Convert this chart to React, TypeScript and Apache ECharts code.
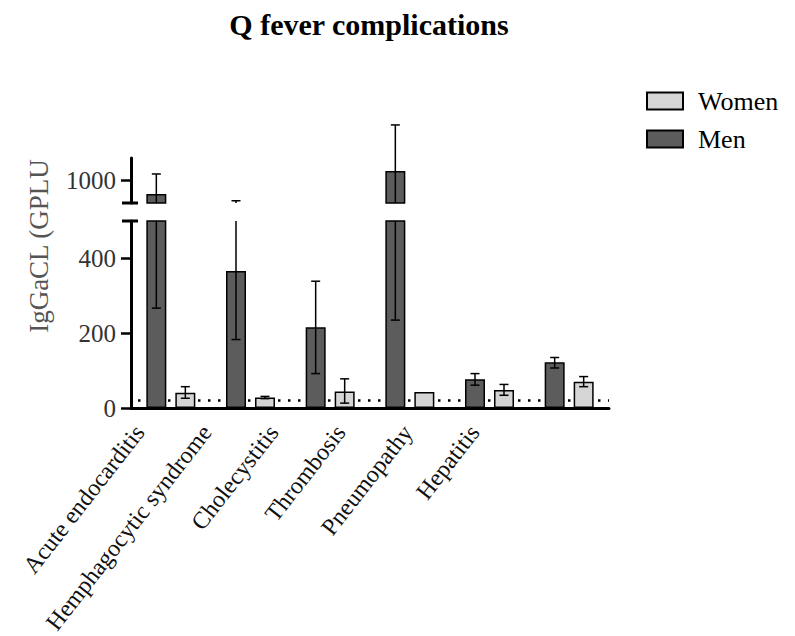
import React, { useEffect, useRef } from "react";
import * as echarts from "echarts";

const categories = [
  "Acute endocarditis",
  "Hemphagocytic syndrome",
  "Cholecystitis",
  "Thrombosis",
  "Pneumopathy",
  "Hepatitis",
];
const menValues = [940, 366, 216, 1042, 77, 122];
const womenValues = [41, 28, 44, 43, 48, 70];
const menErrLow = [267, 183, 92, 235, 61, 107];
const menErrHigh = [1029, 910, 339, 1247, 92, 135];
const womenErrLow: (number | null)[] = [26, 25, 13, null, 34, 57];
const womenErrHigh: (number | null)[] = [57, 31, 78, null, 63, 84];
const lowerTicks = [0, 200, 400];
const upperTicks = [1000];
const lowerRange = [0, 500];
const upperRange = [900, 1100];
const threshold = 20;

const SERIF = "'Liberation Serif', 'DejaVu Serif', serif";
const MEN_COLOR = "#5c5c5c";
const WOMEN_COLOR = "#d5d5d5";
const BAR_W = 20;
const GAP_PX = 9;

function errData(lo: (number | null)[], hi: (number | null)[]) {
  const out: number[][] = [];
  categories.forEach((_, i) => {
    if (lo[i] != null && hi[i] != null) out.push([i, lo[i] as number, hi[i] as number]);
  });
  return out;
}

function makeErrRender(offset: number, clipTop: boolean) {
  return (params: any, api: any) => {
    const idx = api.value(0);
    const lo = api.value(1);
    const hi = api.value(2);
    const cs = params.coordSys;
    const top = cs.y;
    const bottom = cs.y + cs.height;
    const x = api.coord([idx, lo])[0] + offset;
    let yLo = api.coord([idx, lo])[1];
    let yHi = api.coord([idx, hi])[1];
    const cap = 4.5;
    const children: any[] = [];
    const style = { stroke: "#000", lineWidth: 1.5 };
    let drawLoCap = true;
    let drawHiCap = true;
    if (clipTop) {
      if (yHi < top) {
        yHi = top;
        drawHiCap = false;
      }
    } else {
      if (yHi > bottom) return null;
      if (yLo > bottom) {
        yLo = bottom;
        drawLoCap = false;
      }
    }
    children.push({ type: "line", shape: { x1: x, y1: yLo, x2: x, y2: yHi }, style });
    if (drawHiCap)
      children.push({ type: "line", shape: { x1: x - cap, y1: yHi, x2: x + cap, y2: yHi }, style });
    if (drawLoCap)
      children.push({ type: "line", shape: { x1: x - cap, y1: yLo, x2: x + cap, y2: yLo }, style });
    return { type: "group", children };
  };
}

export default function App() {
  const ref = useRef<HTMLDivElement>(null);
  useEffect(() => {
    if (!ref.current) return;
    const chart = echarts.init(ref.current, undefined, { renderer: "svg" });
    const off = (BAR_W + GAP_PX) / 2;
    const axisLineStyle = { color: "#000", width: 3 };
    const yLabel = {
      fontSize: 25,
      fontFamily: SERIF,
      color: "#333",
      margin: 15,
      formatter: (v: number) => String(v),
    };
    const barStyle = (c: string) => ({ color: c, borderColor: "#000", borderWidth: 1.5 });
    const breakRender = (params: any, api: any) => {
      const cs = params.coordSys;
      const y = api.coord([0, api.value(1)])[1];
      return {
        type: "line",
        shape: { x1: cs.x - 9, y1: y, x2: cs.x + 7, y2: y },
        style: { stroke: "#000", lineWidth: 3 },
      };
    };

    const option: any = {
      animation: false,
      backgroundColor: "#fff",
      graphic: [
        {
          type: "text",
          x: 369,
          y: 9,
          style: {
            text: "Q fever complications",
            font: `bold 30px ${SERIF}`,
            fill: "#000",
            textAlign: "center",
            textVerticalAlign: "top",
          },
        },
        {
          type: "text",
          x: 39,
          y: 246,
          rotation: Math.PI / 2,
          style: {
            text: "IgGaCL (GPLU",
            font: `27px ${SERIF}`,
            fill: "#555",
            textAlign: "center",
            textVerticalAlign: "middle",
          },
        },
      ],
      legend: {
        data: ["Women", "Men"],
        orient: "vertical",
        left: 641,
        top: 83,
        itemWidth: 36,
        itemHeight: 17,
        itemGap: 12,
        icon: "rect",
        textStyle: {
          fontSize: 26,
          lineHeight: 22,
          fontFamily: SERIF,
          color: "#000",
          padding: [0, 0, 0, 10],
        },
      },
      grid: [
        { left: 131, top: 221, width: 478, height: 187, outerBoundsMode: "none" },
        { left: 131, top: 158, width: 478, height: 45, outerBoundsMode: "none" },
        { left: 106, top: 221, width: 402, height: 187, outerBoundsMode: "none" },
      ],
      xAxis: [
        {
          type: "category",
          gridIndex: 0,
          data: categories,
          axisLine: { lineStyle: axisLineStyle },
          axisTick: { show: false },
          axisLabel: { show: false },
        },
        { type: "category", gridIndex: 1, data: categories, show: false },
        {
          type: "category",
          gridIndex: 2,
          data: categories,
          axisLine: { show: false },
          axisTick: { show: false },
          axisLabel: {
            interval: 0,
            rotate: 52,
            margin: 20,
            fontSize: 24,
            fontFamily: SERIF,
            color: "#111",
          },
        },
      ],
      yAxis: [
        {
          type: "value",
          gridIndex: 0,
          min: lowerRange[0],
          max: lowerRange[1],
          interval: 100,
          splitLine: { show: false },
          axisLine: { show: true, lineStyle: axisLineStyle },
          axisTick: { show: true, length: 10, lineStyle: { color: "#000", width: 2.5 }, customValues: lowerTicks },
          axisLabel: { ...yLabel, customValues: lowerTicks },
        },
        {
          type: "value",
          gridIndex: 1,
          min: upperRange[0],
          max: upperRange[1],
          interval: 100,
          splitLine: { show: false },
          axisLine: { show: true, lineStyle: axisLineStyle },
          axisTick: { show: true, length: 10, lineStyle: { color: "#000", width: 2.5 }, customValues: upperTicks },
          axisLabel: { ...yLabel, customValues: upperTicks },
        },
        { type: "value", gridIndex: 2, show: false, min: 0, max: 500 },
      ],
      series: [
        {
          type: "custom",
          name: "threshold",
          xAxisIndex: 0,
          yAxisIndex: 0,
          z: 1,
          silent: true,
          data: [[0, threshold]],
          renderItem: (params: any, api: any) => {
            const cs = params.coordSys;
            const y = api.coord([0, api.value(1)])[1];
            return {
              type: "line",
              shape: { x1: cs.x + 7, y1: y, x2: cs.x + cs.width, y2: y },
              style: { stroke: "#000", lineWidth: 2.5, lineDash: [2.5, 7.5] },
            };
          },
        },
        {
          type: "bar",
          name: "Men",
          xAxisIndex: 0,
          yAxisIndex: 0,
          data: menValues,
          barWidth: BAR_W,
          barGap: `${(GAP_PX / BAR_W) * 100}%`,
          itemStyle: barStyle(MEN_COLOR),
        },
        {
          type: "bar",
          name: "Women",
          xAxisIndex: 0,
          yAxisIndex: 0,
          data: womenValues,
          barWidth: BAR_W,
          barGap: `${(GAP_PX / BAR_W) * 100}%`,
          itemStyle: barStyle(WOMEN_COLOR),
        },
        {
          type: "bar",
          name: "Men",
          xAxisIndex: 1,
          yAxisIndex: 1,
          data: menValues,
          barWidth: BAR_W,
          barGap: `${(GAP_PX / BAR_W) * 100}%`,
          itemStyle: barStyle(MEN_COLOR),
        },
        {
          type: "bar",
          name: "Women",
          xAxisIndex: 1,
          yAxisIndex: 1,
          data: categories.map(() => null),
          barWidth: BAR_W,
          barGap: `${(GAP_PX / BAR_W) * 100}%`,
          itemStyle: barStyle(WOMEN_COLOR),
        },
        {
          type: "custom",
          name: "menErrLower",
          xAxisIndex: 0,
          yAxisIndex: 0,
          z: 3,
          data: errData(menErrLow, menErrHigh),
          renderItem: makeErrRender(-off, true),
        },
        {
          type: "custom",
          name: "womenErrLower",
          xAxisIndex: 0,
          yAxisIndex: 0,
          z: 3,
          data: errData(womenErrLow, womenErrHigh),
          renderItem: makeErrRender(off, true),
        },
        {
          type: "custom",
          name: "menErrUpper",
          xAxisIndex: 1,
          yAxisIndex: 1,
          z: 3,
          data: errData(menErrLow, menErrHigh),
          renderItem: makeErrRender(-off, false),
        },
        {
          type: "custom",
          name: "breakLower",
          xAxisIndex: 0,
          yAxisIndex: 0,
          z: 4,
          data: [[0, lowerRange[1]]],
          renderItem: breakRender,
        },
        {
          type: "custom",
          name: "breakUpper",
          xAxisIndex: 1,
          yAxisIndex: 1,
          z: 4,
          data: [[0, upperRange[0]]],
          renderItem: breakRender,
        },
      ],
    };
    chart.setOption(option);
    return () => chart.dispose();
  }, []);
  return (
    <div
      ref={ref}
      style={{ position: "fixed", left: 0, top: 0, width: 795, height: 636, background: "#fff" }}
    />
  );
}
